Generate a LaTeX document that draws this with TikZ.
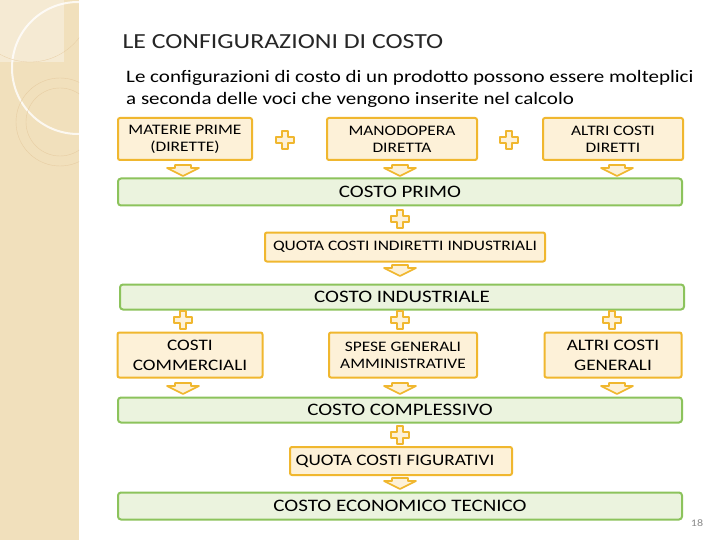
\documentclass[tikz,border=0pt]{standalone}
\usepackage{fontspec}
\setmainfont{Carlito}[FakeStretch=1.2]
\begin{document}
\begin{tikzpicture}[x=1pt,y=-1pt,
  ybox/.style={draw=yb,fill=yf,line width=2pt,rounded corners=2pt,align=center,font=\fontsize{14.5}{17}\selectfont,inner sep=0pt},
  gbox/.style={draw=gb,fill=gf,line width=2pt,rounded corners=3pt,font=\fontsize{17.5}{20}\selectfont,inner sep=0pt},
  plusshape/.pic={\draw[draw=yb,fill=yf,line width=1.6pt,line join=round] (-3,-9)--(3,-9)--(3,-3)--(9,-3)--(9,3)--(3,3)--(3,9)--(-3,9)--(-3,3)--(-9,3)--(-9,-3)--(-3,-3)--cycle;},
  darrow/.pic={\draw[draw=yb,fill=yf,line width=1.6pt,line join=round] (-8,-5)--(8,-5)--(8,-2)--(16,-2)--(0,6)--(-16,-2)--(-8,-2)--cycle;}]
\definecolor{yb}{HTML}{F0B72F}
\definecolor{yf}{HTML}{FDF1D8}
\definecolor{gb}{HTML}{8CC35C}
\definecolor{gf}{HTML}{EBF3DE}
\definecolor{strip}{HTML}{F1E0BC}
\useasboundingbox (0,0) rectangle (720,540);
\fill[white] (0,0) rectangle (720,540);
\fill[strip] (0,0) rectangle (79,540);
\begin{scope}
\clip (0,0) rectangle (79,540);
\fill[white,opacity=0.35] (0,0) rectangle (64,62);
\draw[white,line width=2pt,opacity=0.8] (78,68) circle (66);
\draw[strip!80!brown,line width=0.4pt] (60,122) circle (44);
\draw[strip!80!brown,line width=0.4pt] (60,122) circle (34);
\draw[strip!80!brown,line width=0.3pt] (30,0) circle (62);
\end{scope}
\node[anchor=west,font=\fontsize{21.5}{24}\selectfont,text=black!85] (title) at (119,42) {LE CONFIGURAZIONI DI COSTO};
\node[anchor=north west,align=left,font=\fontsize{17.5}{22}\selectfont,inner sep=0pt] (sub) at (126,70) {Le configurazioni di costo di un prodotto possono essere molteplici\\a seconda delle voci che vengono inserite nel calcolo};
% row 1
\node[ybox,minimum width=134pt,minimum height=42pt] (mp) at (185,139) {MATERIE PRIME\\(DIRETTE)};
\node[ybox,minimum width=150pt,minimum height=42pt] (md) at (402,139) {MANODOPERA\\DIRETTA};
\node[ybox,minimum width=140pt,minimum height=42pt] (acd) at (613,139) {ALTRI COSTI\\DIRETTI};
\pic at (285,140) {plusshape};
\pic at (509,140) {plusshape};
\pic at (183,170) {darrow};
\pic at (400,170) {darrow};
\pic at (617,170) {darrow};
\node[gbox,minimum width=564pt,minimum height=27pt] (cp) at (400,192) {COSTO PRIMO};
\pic at (400,219) {plusshape};
\node[ybox,minimum width=280pt,minimum height=29pt] (qci) at (405,247) {QUOTA COSTI INDIRETTI INDUSTRIALI};
\pic at (400,270) {darrow};
\node[gbox,minimum width=564pt,minimum height=25pt] (ci) at (402,297) {COSTO INDUSTRIALE};
\pic at (183,320) {plusshape};
\pic at (400,320) {plusshape};
\pic at (612,320) {plusshape};
\node[ybox,minimum width=145pt,minimum height=45pt,font=\fontsize{16}{20}\selectfont] (cc) at (190,355) {COSTI\\COMMERCIALI};
\node[ybox,minimum width=148pt,minimum height=45pt] (sga) at (403,355) {SPESE GENERALI\\AMMINISTRATIVE};
\node[ybox,minimum width=137pt,minimum height=45pt,font=\fontsize{16}{20}\selectfont] (acg) at (613,355) {ALTRI COSTI\\GENERALI};
\pic at (183,388) {darrow};
\pic at (400,388) {darrow};
\pic at (617,388) {darrow};
\node[gbox,minimum width=564pt,minimum height=25pt] (ccx) at (400,410) {COSTO COMPLESSIVO\hspace{12pt}};
\pic at (400,435) {plusshape};
\node[ybox,minimum width=222pt,minimum height=28pt,font=\fontsize{16}{19}\selectfont] (qcf) at (401,461) {QUOTA COSTI FIGURATIVI\hspace{12pt}};
\pic at (400,483) {darrow};
\node[gbox,minimum width=564pt,minimum height=27pt] (cet) at (400,506) {COSTO ECONOMICO TECNICO};
\node[font=\fontsize{10}{11}\selectfont,text=black!45] (pg) at (697,523) {18};
\end{tikzpicture}
\end{document}
